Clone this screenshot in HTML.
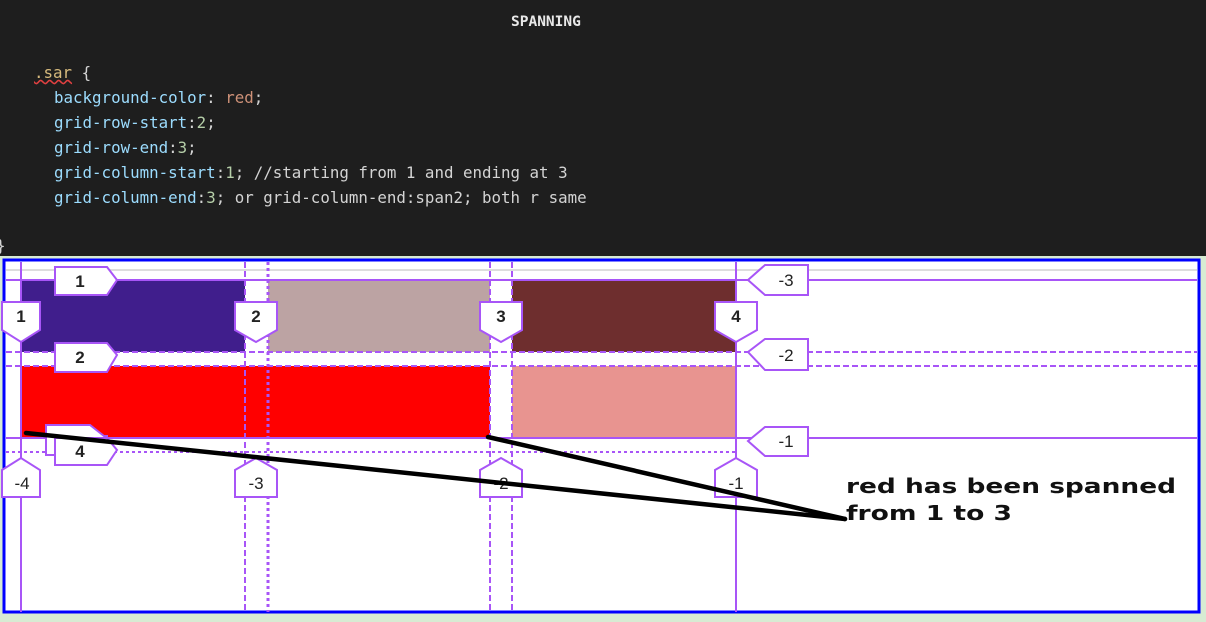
<!DOCTYPE html>
<html><head><meta charset="utf-8"><style>
body{margin:0;width:1206px;height:622px;overflow:hidden;background:#d7ebd3;position:relative;font-family:"Liberation Mono",monospace}
#code{position:absolute;left:0;top:0;width:1206px;height:256px;background:#1e1e1e}
.c{position:absolute;font-family:"DejaVu Sans Mono","Liberation Mono",monospace;font-size:15.8px;color:#9cdcfe;white-space:pre}
</style></head><body>
<div id="code">
<div class="c" style="left:511px;top:14px;color:#e8e8e8;font-weight:bold;font-size:14.5px">SPANNING</div>
<div class="c" style="left:34px;top:63px;color:#d7ba7d"><span style="text-decoration:underline wavy #e04040">.sar</span> <span style="color:#d4d4d4">{</span></div>
<div class="c" style="left:54px;top:88px">background-color<span style="color:#d4d4d4">: </span><span style="color:#ce9178">red</span><span style="color:#d4d4d4">;</span></div>
<div class="c" style="left:54px;top:113px">grid-row-start<span style="color:#d4d4d4">:</span><span style="color:#b5cea8">2</span><span style="color:#d4d4d4">;</span></div>
<div class="c" style="left:54px;top:138px">grid-row-end<span style="color:#d4d4d4">:</span><span style="color:#b5cea8">3</span><span style="color:#d4d4d4">;</span></div>
<div class="c" style="left:54px;top:163px">grid-column-start<span style="color:#d4d4d4">:</span><span style="color:#b5cea8">1</span><span style="color:#d4d4d4">; //starting from 1 and ending at 3</span></div>
<div class="c" style="left:54px;top:188px">grid-column-end<span style="color:#d4d4d4">:</span><span style="color:#b5cea8">3</span><span style="color:#d4d4d4">; or grid-column-end:span2; both r same</span></div>
<div class="c" style="left:-4px;top:236px;color:#d4d4d4">}</div>
</div>
<svg style="position:absolute;left:0;top:0" width="1206" height="622" font-family="Liberation Sans,sans-serif">
<rect x="4" y="260" width="1195" height="352" fill="#fff" stroke="#0000ff" stroke-width="3"/>
<line x1="6" y1="270" x2="1197" y2="270" stroke="#ddd" stroke-width="2"/>
<rect x="21" y="280" width="224" height="72" fill="#401e8c"/>
<rect x="268" y="280" width="222" height="72" fill="#bca3a3"/>
<rect x="512" y="280" width="224" height="72" fill="#6e2e2e"/>
<rect x="21" y="366" width="469" height="72" fill="#ff0000"/>
<rect x="512" y="366" width="224" height="72" fill="#e89490"/>
<g stroke="#a855f7" stroke-width="2" fill="none">
<line x1="21" y1="262" x2="21" y2="612"/>
<line x1="736" y1="262" x2="736" y2="612"/>
<line x1="245" y1="262" x2="245" y2="612" stroke-dasharray="6,3"/>
<line x1="268" y1="262" x2="268" y2="612" stroke-dasharray="3,3" stroke-width="3"/>
<line x1="490" y1="262" x2="490" y2="612" stroke-dasharray="6,3"/>
<line x1="512" y1="262" x2="512" y2="612" stroke-dasharray="6,3"/>
<line x1="6" y1="280" x2="1197" y2="280"/>
<line x1="6" y1="438" x2="1197" y2="438"/>
<line x1="6" y1="352" x2="1197" y2="352" stroke-dasharray="6,3"/>
<line x1="6" y1="366" x2="1197" y2="366" stroke-dasharray="6,3"/>
<line x1="6" y1="452" x2="736" y2="452" stroke-dasharray="3,3"/>
</g>
<g stroke="#a855f7" stroke-width="2" fill="#fff">
<path d="M2 302H40V330L21 342L2 330Z"/>
<path d="M235 302H277V330L256 342L235 330Z"/>
<path d="M480 302H522V330L501 342L480 330Z"/>
<path d="M715 302H757V330L736 342L715 330Z"/>
<path d="M2 470L21 458L40 470V497H2Z"/>
<path d="M235 470L256 458L277 470V497H235Z"/>
<path d="M480 470L501 458L522 470V497H480Z"/>
<path d="M715 470L736 458L757 470V497H715Z"/>
<path d="M55 267H107L117 280L107 295H55Z"/>
<path d="M55 343H107L117 355L107 372H55Z"/>
<path d="M46 425H90L104 436L107 436V455H46Z"/>
<path d="M55 438H107L117 450L107 465H55Z"/>
<path d="M765 265H808V295H765L748 280Z"/>
<path d="M765 339H808V370H765L748 352Z"/>
<path d="M765 427H808V456H765L748 441Z"/>
</g>
<g font-size="17" fill="#222" text-anchor="middle" font-weight="bold">
<text x="80" y="287">1</text><text x="80" y="363">2</text><text x="80" y="457">4</text>
<text x="21" y="322">1</text><text x="256" y="322">2</text><text x="501" y="322">3</text><text x="736" y="322">4</text>
</g>
<g font-size="17" fill="#222" text-anchor="middle">
<text x="22" y="489">-4</text><text x="256" y="489">-3</text><text x="501" y="489">-2</text><text x="736" y="489">-1</text>
<text x="786" y="286">-3</text><text x="786" y="361">-2</text><text x="786" y="447">-1</text>
</g>
<g stroke="#000" stroke-width="4.5" stroke-linecap="round">
<line x1="26" y1="433" x2="845" y2="519"/>
<line x1="488" y1="437" x2="845" y2="519"/>
</g>
<g font-family="DejaVu Sans,sans-serif" font-weight="bold" font-size="20" fill="#111">
<text x="846" y="493" textLength="330" lengthAdjust="spacingAndGlyphs">red has been spanned</text>
<text x="846" y="520" textLength="166" lengthAdjust="spacingAndGlyphs">from 1 to 3</text>
</g>
</svg>
</body></html>
